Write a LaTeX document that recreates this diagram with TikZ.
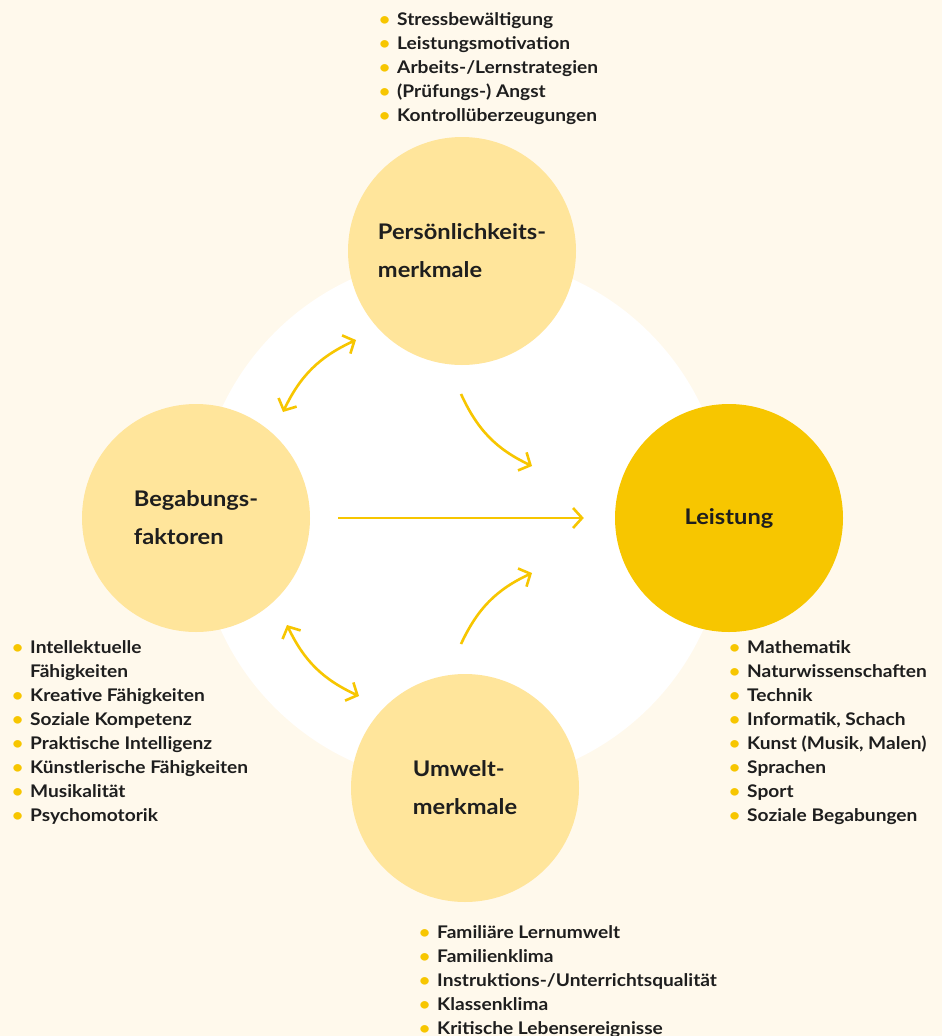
\documentclass[tikz,border=0pt]{standalone}
\usepackage{fontspec}
\setmainfont{Lato}[FakeStretch=1.1]
\usepackage{xcolor}
\usetikzlibrary{arrows.meta}

\definecolor{creme}{HTML}{FFF9EC}
\definecolor{hellgelb}{HTML}{FFE59B}
\definecolor{gelb}{HTML}{F7C600}
\definecolor{schrift}{HTML}{1E1E1E}

\newcommand{\pkt}{\makebox[18pt][l]{\textcolor{gelb}{\textbullet}}}
\newcommand{\liste}[1]{\begin{tabular}{@{}l@{}l@{}}#1\end{tabular}}

\tikzset{
  kreis/.style={circle, fill=hellgelb, minimum size=228pt, inner sep=0pt,
    font=\fontsize{21.5}{38}\selectfont\bfseries, align=left, text=schrift},
  liste/.style={anchor=north west, inner sep=0pt,
    font=\fontsize{17.4}{24}\selectfont\bfseries, text=schrift},
  pfeil/.style={draw=gelb, line width=2.6pt, -{Straight Barb[length=9pt,width=20pt]}},
  doppelpfeil/.style={pfeil, {Straight Barb[length=9pt,width=20pt]}-{Straight Barb[length=9pt,width=20pt]}}
}

\begin{document}
\begin{tikzpicture}[x=1pt,y=1pt]
\useasboundingbox (0,0) rectangle (942,-1036);
\fill[creme] (0,0) rectangle (942,-1036);
\fill[white] (462,-520) circle (265);

% Kreise
\node[kreis] (pers) at (462,-251) {Persönlichkeits-\\merkmale};
\node[kreis] (beg) at (196,-518) {Begabungs-\\faktoren};
\node[kreis, fill=gelb] (leist) at (729,-518) {Leistung};
\node[kreis] (umw) at (465,-788) {Umwelt-\\merkmale};

% Pfeile
\coordinate (bp1) at (283,-412);
\coordinate (bp2) at (356,-340);
\coordinate (pl1) at (461,-394);
\coordinate (pl2) at (532,-466);
\coordinate (ul1) at (461,-644);
\coordinate (ul2) at (532,-573);
\coordinate (bu1) at (287,-625);
\coordinate (bu2) at (359,-696);
\draw[doppelpfeil] (bp1) to[bend left=20] (bp2);
\draw[pfeil] (pl1) to[bend right=20] (pl2);
\draw[pfeil, shorten <=28pt, shorten >=31pt] (beg.east) -- (leist.west);
\draw[pfeil] (ul1) to[bend left=20] (ul2);
\draw[doppelpfeil] (bu1) to[bend right=20] (bu2);

% Listen
\node[liste] (lpers) at (379,-8) {\liste{
  \pkt & Stressbewältigung\\
  \pkt & Leistungsmotivation\\
  \pkt & Arbeits-/Lernstrategien\\
  \pkt & (Prüfungs-) Angst\\
  \pkt & Kontrollüberzeugungen\\}};
\node[liste] (lbeg) at (12,-636) {\liste{
  \pkt & Intellektuelle\\
       & Fähigkeiten\\
  \pkt & Kreative Fähigkeiten\\
  \pkt & Soziale Kompetenz\\
  \pkt & Praktische Intelligenz\\
  \pkt & Künstlerische Fähigkeiten\\
  \pkt & Musikalität\\
  \pkt & Psychomotorik\\}};
\node[liste] (lleist) at (729,-636) {\liste{
  \pkt & Mathematik\\
  \pkt & Naturwissenschaften\\
  \pkt & Technik\\
  \pkt & Informatik, Schach\\
  \pkt & Kunst (Musik, Malen)\\
  \pkt & Sprachen\\
  \pkt & Sport\\
  \pkt & Soziale Begabungen\\}};
\node[liste] (lumw) at (419,-921) {\liste{
  \pkt & Familiäre Lernumwelt\\
  \pkt & Familienklima\\
  \pkt & Instruktions-/Unterrichtsqualität\\
  \pkt & Klassenklima\\
  \pkt & Kritische Lebensereignisse\\}};
\end{tikzpicture}
\end{document}
